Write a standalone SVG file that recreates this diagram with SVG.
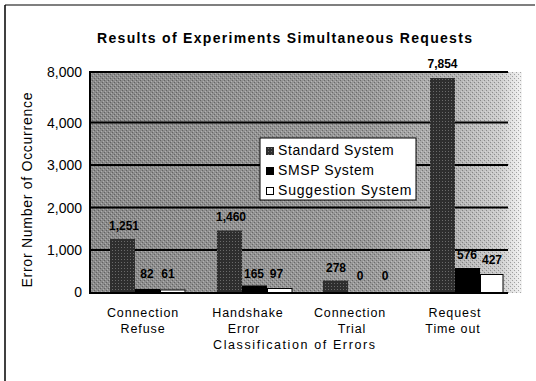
<svg xmlns="http://www.w3.org/2000/svg" width="536" height="381" viewBox="0 0 536 381">
<style>
  text { font-family: "Liberation Sans", Arial, sans-serif; fill: #000; }
  .title { font-size: 14px; font-weight: bold; }
  .tick { font-size: 14px; text-anchor: end; }
  .cat { font-size: 12.5px; text-anchor: middle; letter-spacing: 0.9px; }
  .val { font-size: 12px; font-weight: bold; text-anchor: middle; }
  .leg { font-size: 14px; letter-spacing: 0.6px; }
  .grid { stroke: #000; stroke-width: 2; }
  .std { fill: url(#stdPat); }
  .smsp { fill: #000; }
  .sug { fill: #fff; stroke: #000; stroke-width: 1; }
</style>
<defs>
  <linearGradient id="bg" gradientUnits="userSpaceOnUse" x1="90" y1="0" x2="522" y2="0">
    <stop offset="0" stop-color="#8a8a8a"/>
    <stop offset="0.65" stop-color="#999"/>
    <stop offset="0.85" stop-color="#b4b4b4"/>
    <stop offset="0.95" stop-color="#cdcdcd"/>
    <stop offset="1" stop-color="#f2f2f2"/>
  </linearGradient>
  <pattern id="dots" width="4" height="4" patternUnits="userSpaceOnUse">
    <rect x="0" y="0" width="1" height="1" fill="#000"/>
    <rect x="2" y="2" width="1" height="1" fill="#000"/>
    <rect x="1" y="3" width="1" height="1" fill="#fff"/>
    <rect x="3" y="1" width="1" height="1" fill="#fff"/>
  </pattern>
  <pattern id="stdPat" width="3" height="3" patternUnits="userSpaceOnUse">
    <rect width="3" height="3" fill="#2e2e2e"/>
    <rect x="1" y="1" width="1" height="1" fill="#6a6a6a"/>
  </pattern>
</defs>

<!-- frame -->
<g id="frame">
  <line x1="5" y1="5" x2="535" y2="5" stroke="#555" stroke-width="1.5"/>
  <line x1="5" y1="5" x2="5" y2="381" stroke="#000" stroke-width="1.5"/>
</g>

<text id="title" class="title" x="284.5" y="43" text-anchor="middle" textLength="375" lengthAdjust="spacing">Results of Experiments Simultaneous Requests</text>

<!-- plot area -->
<g id="plot">
  <rect x="90" y="72" width="432" height="221" fill="url(#bg)"/>
  <rect x="90" y="72" width="432" height="221" fill="url(#dots)" opacity="0.3"/>
  <g id="gridlines">
    <line class="grid" x1="90" y1="72" x2="508" y2="72"/>
    <line class="grid" x1="90" y1="122.5" x2="508" y2="122.5"/>
    <line class="grid" x1="90" y1="165" x2="508" y2="165"/>
    <line class="grid" x1="90" y1="207.5" x2="508" y2="207.5"/>
    <line class="grid" x1="90" y1="250" x2="508" y2="250"/>
    <line x1="90" y1="71" x2="90" y2="294" stroke="#000" stroke-width="2"/>
  </g>
</g>

<!-- y axis -->
<g id="y-axis">
  <text class="tick" x="82" y="77">8,000</text>
  <text class="tick" x="82" y="127.5">4,000</text>
  <text class="tick" x="82" y="170">3,000</text>
  <text class="tick" x="82" y="212.5">2,000</text>
  <text class="tick" x="82" y="255">1,000</text>
  <text class="tick" x="82" y="297">0</text>
  <text x="0" y="0" font-size="14" text-anchor="middle" textLength="195" lengthAdjust="spacing" transform="translate(32,190) rotate(-90)">Error Number of Occurrence</text>
</g>

<!-- bars -->
<g id="cat-connection-refuse">
  <rect class="std" x="110" y="239" width="25" height="53.5"/>
  <rect class="smsp" x="135" y="289" width="25" height="3.5"/>
  <rect class="sug" x="160.5" y="290" width="24.5" height="2.5"/>
  <text class="val" x="124" y="230">1,251</text>
  <text class="val" x="147" y="278">82</text>
  <text class="val" x="168" y="278">61</text>
</g>
<g id="cat-handshake-error">
  <rect class="std" x="217" y="230.5" width="25" height="62"/>
  <rect class="smsp" x="242" y="285.5" width="25" height="7"/>
  <rect class="sug" x="267.5" y="288.5" width="24.5" height="4"/>
  <text class="val" x="231" y="221">1,460</text>
  <text class="val" x="254" y="278">165</text>
  <text class="val" x="276.5" y="278">97</text>
</g>
<g id="cat-connection-trial">
  <rect class="std" x="323" y="280.5" width="25" height="12"/>
  <text class="val" x="336" y="272">278</text>
  <text class="val" x="360" y="280">0</text>
  <text class="val" x="385" y="280">0</text>
</g>
<g id="cat-request-timeout">
  <rect class="std" x="430" y="78" width="25" height="214.5"/>
  <rect class="smsp" x="455" y="268" width="25" height="24.5"/>
  <rect class="sug" x="480.5" y="274.5" width="22.5" height="18"/>
  <text class="val" x="442.5" y="68">7,854</text>
  <text class="val" x="467" y="259">576</text>
  <text class="val" x="492" y="264">427</text>
</g>

<line id="x-axis-line" x1="89" y1="293" x2="508" y2="293" stroke="#000" stroke-width="2"/>

<!-- legend -->
<g id="legend">
  <rect x="260" y="138" width="156" height="62" fill="#fff" stroke="#000" stroke-width="1"/>
  <rect class="std" x="266" y="147" width="8" height="8"/>
  <text class="leg" x="278" y="155">Standard System</text>
  <rect class="smsp" x="266" y="167" width="8" height="8"/>
  <text class="leg" x="278" y="175">SMSP System</text>
  <rect class="sug" x="266.5" y="187.5" width="7" height="7"/>
  <text class="leg" x="278" y="195" textLength="134" lengthAdjust="spacing">Suggestion System</text>
</g>

<!-- x axis labels -->
<g id="x-axis">
  <text class="cat" x="143" y="317">Connection</text>
  <text class="cat" x="143" y="332.5">Refuse</text>
  <text class="cat" x="248" y="317">Handshake</text>
  <text class="cat" x="244" y="332.5">Error</text>
  <text class="cat" x="350" y="317">Connection</text>
  <text class="cat" x="352" y="332.5">Trial</text>
  <text class="cat" x="455" y="317">Request</text>
  <text class="cat" x="453" y="332.5">Time out</text>
  <text x="294" y="348.5" font-size="12.5" text-anchor="middle" textLength="162" lengthAdjust="spacing">Classification of Errors</text>
</g>
</svg>
